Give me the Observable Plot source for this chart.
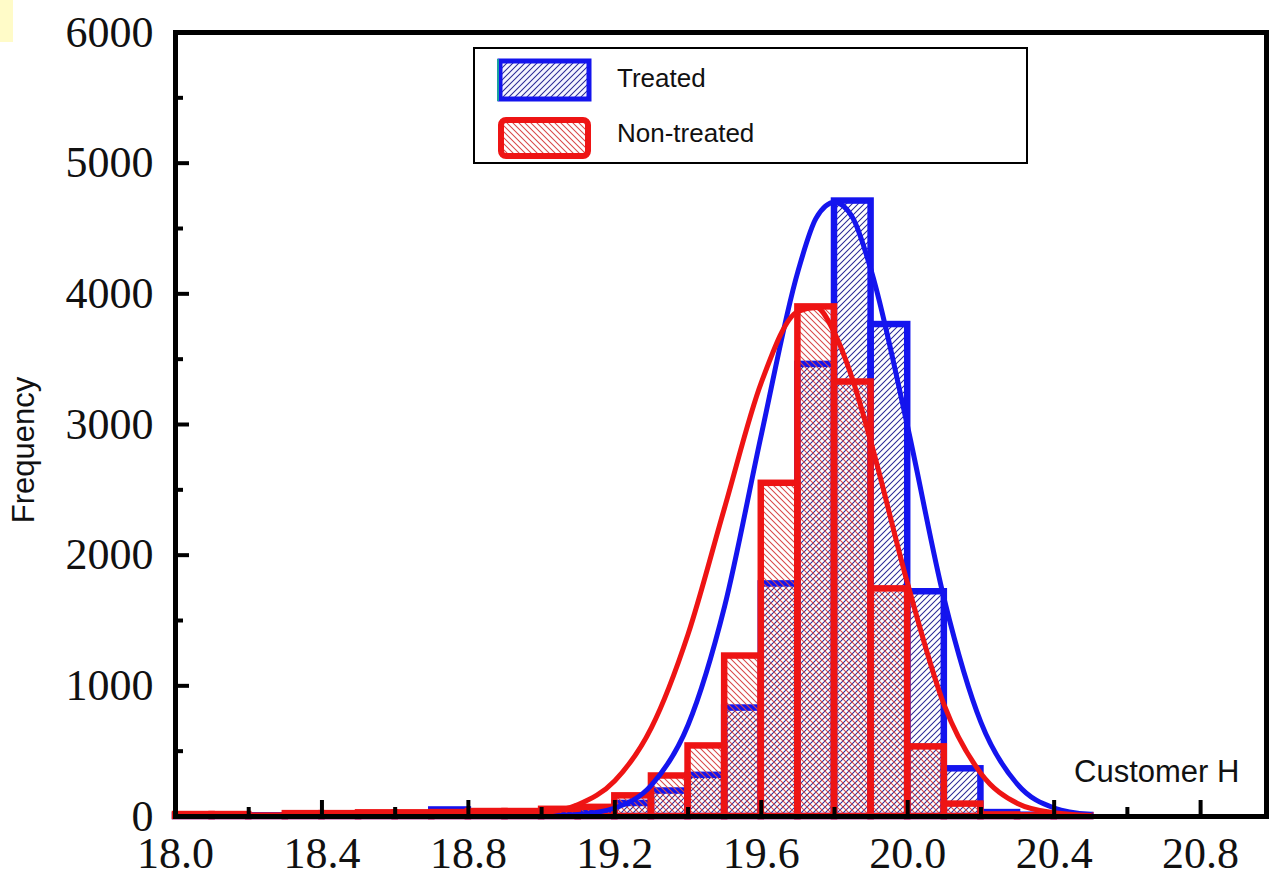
<!DOCTYPE html>
<html><head><meta charset="utf-8">
<script src="https://cdn.jsdelivr.net/npm/d3@7"></script>
<script src="https://cdn.jsdelivr.net/npm/@observablehq/plot@0.6"></script>
<style>
body{margin:0;background:#fff;}
#chart{position:relative;width:1278px;height:880px;}
#mark{position:absolute;left:0;top:0;width:13px;height:42px;background:#fffbc8;z-index:2;}
</style></head><body>
<svg width="0" height="0" style="position:absolute">
<defs>
<pattern id="blueHatch" patternUnits="userSpaceOnUse" width="6" height="6">
<path d="M-1,1 L1,-1 M0,6 L6,0 M5,7 L7,5" stroke="#2a2a96" stroke-width="1.05"/>
</pattern>
<pattern id="redHatch" patternUnits="userSpaceOnUse" width="6" height="6">
<path d="M-1,5 L1,7 M0,0 L6,6 M5,-1 L7,1" stroke="#d84848" stroke-width="1.05"/>
</pattern>
</defs></svg>
<div id="chart"><div id="mark"></div></div>
<script>
// ---- data ----
const seriesNames = ["Treated", "Non-treated"];
const binWidth = 0.1;
const binStarts = [18.0,18.1,18.2,18.3,18.4,18.5,18.6,18.7,18.8,18.9,19.0,19.1,19.2,19.3,19.4,19.5,19.6,19.7,19.8,19.9,20.0,20.1,20.2,20.3,20.4];
const treated    = [5,5,5,5,5,5,5,50,10,15,20,30,100,195,315,830,1780,3460,4710,3765,1720,365,30,10,8];
const nonTreated = [15,15,3,22,22,28,28,30,38,38,55,70,158,310,540,1228,2550,3900,3325,1742,533,95,12,5,5];
const curveX        = [18.9,19.0,19.1,19.2,19.3,19.4,19.5,19.6,19.7,19.75,19.8,19.85,19.9,20.0,20.1,20.2,20.3,20.4,20.5];
const treatedFit    = [null,3,15,65,240,700,1610,2920,4170,4580,4700,4580,4180,2980,1660,720,245,65,15];
const nonTreatedFit = [5,25,92,274,680,1395,2365,3320,3865,3895,3700,3340,2860,1780,850,330,100,28,7];
const xTickLabels = [18.0,18.4,18.8,19.2,19.6,20.0,20.4,20.8];
const xMinorTicks = [18.2,18.6,19.0,19.4,19.8,20.2,20.6];
const yTickLabels = [0,1000,2000,3000,4000,5000,6000];
const yMinorTicks = [500,1500,2500,3500,4500,5500];
const cornerNote = "Customer H";
const yTitle = "Frequency";

// ---- build ----
const BLUE = "#1414ee", RED = "#ee1414";
const W = 1278, H = 880, mL = 175, mR = 12, mT = 32, mB = 64;
const plotW = W - mL - mR, plotH = H - mT - mB;
const bins = binStarts.map((x0, i) => ({x1: x0, x2: +(x0 + binWidth).toFixed(2), treated: treated[i], nonTreated: nonTreated[i]}));
const tCurve = curveX.map((x, i) => ({x, y: treatedFit[i]})).filter(d => d.y != null);
const nCurve = curveX.map((x, i) => ({x, y: nonTreatedFit[i]})).filter(d => d.y != null);

const plot = Plot.plot({
  width: W, height: H,
  marginLeft: mL, marginRight: mR, marginTop: mT, marginBottom: mB,
  x: {domain: [18, 20.98]},
  y: {domain: [0, 6000]},
  style: {fontFamily: "'Liberation Serif','Times New Roman',serif", fontSize: "44px", color: "#111", background: "transparent"},
  marks: [
    Plot.rect(bins, {x1: "x1", x2: "x2", y1: 0, y2: "treated", fill: "url(#blueHatch)", stroke: BLUE, strokeWidth: 6.5}),
    Plot.rect(bins, {x1: "x1", x2: "x2", y1: 0, y2: "nonTreated", fill: "url(#redHatch)", stroke: RED, strokeWidth: 6.5}),
    Plot.line(tCurve, {x: "x", y: "y", stroke: BLUE, strokeWidth: 5, curve: "monotone-x"}),
    Plot.line(nCurve, {x: "x", y: "y", stroke: RED, strokeWidth: 5, curve: "monotone-x"}),
    Plot.ruleX(xMinorTicks, {x: d => d, insetTop: plotH - 9, stroke: "black", strokeWidth: 4}),
    Plot.ruleX(xTickLabels.slice(1), {x: d => d, insetTop: plotH - 16, stroke: "black", strokeWidth: 4}),
    Plot.ruleY(yMinorTicks, {y: d => d, insetRight: plotW - 8, stroke: "black", strokeWidth: 4}),
    Plot.ruleY(yTickLabels.slice(1, -1), {y: d => d, insetRight: plotW - 14, stroke: "black", strokeWidth: 4}),
    Plot.axisX({ticks: xTickLabels, tickFormat: d => d.toFixed(1), tickSize: 0, tickPadding: 20, label: null}),
    Plot.axisY({ticks: yTickLabels, tickFormat: d => String(d), tickSize: 0, tickPadding: 22, label: null}),
    Plot.frame({stroke: "black", strokeWidth: 5})
  ]
});
document.getElementById("chart").appendChild(plot);

// ---- annotations & legend ----
const svg = d3.select(plot);
const sans = "'Liberation Sans',Arial,sans-serif";
svg.append("text").attr("x", 1074).attr("y", 782).attr("text-anchor", "start").attr("font-family", sans).attr("font-size", 31)
  .attr("fill", "#111").text(cornerNote);
svg.append("text").attr("transform", "translate(34,450) rotate(-90)").attr("text-anchor", "middle")
  .attr("font-family", sans).attr("font-size", 31).attr("fill", "#111").text(yTitle);

const lg = svg.append("g").attr("text-anchor", "start");
lg.append("rect").attr("x", 474).attr("y", 48).attr("width", 553).attr("height", 115)
  .attr("fill", "white").attr("stroke", "black").attr("stroke-width", 2);
// Treated swatch
lg.append("rect").attr("x", 500).attr("y", 61).attr("width", 89).attr("height", 38)
  .attr("fill", "#f4f4ff").attr("stroke", "none");
lg.append("rect").attr("x", 500).attr("y", 61).attr("width", 89).attr("height", 38)
  .attr("fill", "url(#blueHatch)").attr("stroke", BLUE).attr("stroke-width", 5);
lg.append("line").attr("x1", 498).attr("x2", 498).attr("y1", 59).attr("y2", 101)
  .attr("stroke", "#1aa0a0").attr("stroke-width", 2);
lg.append("text").attr("x", 617).attr("y", 87).attr("text-anchor", "start").attr("font-family", sans).attr("font-size", 26)
  .attr("fill", "#111").text(seriesNames[0]);
// Non-treated swatch
lg.append("rect").attr("x", 501).attr("y", 120).attr("width", 87).attr("height", 36).attr("rx", 5)
  .attr("fill", "url(#redHatch)").attr("stroke", RED).attr("stroke-width", 6);
lg.append("text").attr("x", 617).attr("y", 142).attr("text-anchor", "start").attr("font-family", sans).attr("font-size", 26)
  .attr("fill", "#111").text(seriesNames[1]);
</script>
</body></html>
